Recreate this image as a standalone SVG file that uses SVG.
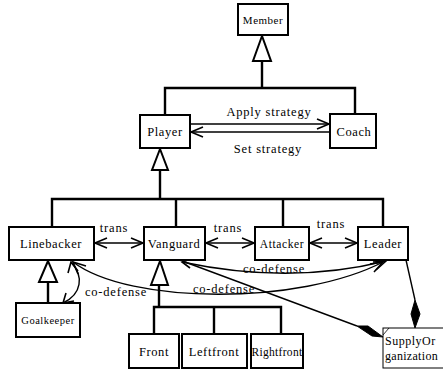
<svg xmlns="http://www.w3.org/2000/svg" width="443" height="372" viewBox="0 0 443 372">
  <style>
    .box { fill: #ffffff; stroke: #000; stroke-width: 2; }
    .tree { fill: none; stroke: #000; stroke-width: 2.4; }
    .tri { fill: #ffffff; stroke: #000; stroke-width: 2; }
    .assoc { fill: none; stroke: #000; stroke-width: 1.4; }
    .head { fill: none; stroke: #000; stroke-width: 1.6; }
    .dia { fill: #000; stroke: #000; stroke-width: 1; }
    .lbl { font-size: 12.5px; text-anchor: middle; letter-spacing: 0.6px; }
    .sm { font-size: 11px; text-anchor: middle; letter-spacing: 0.5px; }
    .edge { font-size: 12.5px; text-anchor: middle; letter-spacing: 0.8px; }
  </style>

  <g font-family="'Liberation Serif', 'DejaVu Serif', 'Times New Roman', serif" fill="#000">

  <!-- generalisation trees and association lines -->
  <g id="connectors">
    <!-- Member <- Player, Coach -->
    <polygon class="tri" points="262,36 253,61 271,61"/>
    <polyline class="tree" points="262,61 262,88"/>
    <polyline class="tree" points="165,115 165,88 355,88 355,114"/>

    <!-- Player <- Linebacker, Vanguard, Attacker, Leader -->
    <polygon class="tri" points="160,149 152,170 168,170"/>
    <polyline class="tree" points="160,170 160,199"/>
    <polyline class="tree" points="52,227 52,199 383,199 383,227"/>
    <line class="tree" x1="176" y1="199" x2="176" y2="227"/>
    <line class="tree" x1="283" y1="199" x2="283" y2="227"/>

    <!-- Linebacker <- Goalkeeper -->
    <polygon class="tri" points="48,261 39,282 57,282"/>
    <line class="tree" x1="48" y1="282" x2="48" y2="303"/>

    <!-- Vanguard <- Front, Leftfront, Rightfront -->
    <polygon class="tri" points="160,261 151,285 168,285"/>
    <line class="tree" x1="159" y1="285" x2="159" y2="307"/>
    <polyline class="tree" points="154,334 154,307 281,307 281,334"/>
    <line class="tree" x1="214" y1="307" x2="214" y2="334"/>

    <!-- Apply strategy / Set strategy -->
    <line class="assoc" x1="190" y1="124" x2="329" y2="124"/>
    <polyline class="head" points="317,119 329,124 317,129"/>
    <line class="assoc" x1="191" y1="132" x2="330" y2="132"/>
    <polyline class="head" points="203,127 191,132 203,137"/>

    <!-- trans arrows -->
    <line class="assoc" x1="95" y1="243" x2="143" y2="243"/>
    <polyline class="head" points="107,238 95,243 107,248"/>
    <polyline class="head" points="131,238 143,243 131,248"/>
    <line class="assoc" x1="206" y1="243" x2="254" y2="243"/>
    <polyline class="head" points="218,238 206,243 218,248"/>
    <polyline class="head" points="242,238 254,243 242,248"/>
    <line class="assoc" x1="310" y1="243" x2="357" y2="243"/>
    <polyline class="head" points="322,238 310,243 322,248"/>
    <polyline class="head" points="345,238 357,243 345,248"/>

    <!-- co-defense: Linebacker <-> Goalkeeper -->
    <path class="assoc" d="M71,262 C84,276 82,294 63,303"/>
    <polyline class="head" points="68,273 71,262 78,271"/>
    <polyline class="head" points="66,293 63,303 74,301"/>

    <!-- co-defense: Linebacker <-> Leader -->
    <path class="assoc" d="M73,262 C130,305 300,305 383,262"/>
    <polyline class="head" points="78,274 73,262 86,266"/>
    <polyline class="head" points="370,264 383,262 374,272"/>

    <!-- co-defense: Vanguard <-> Leader -->
    <path class="assoc" d="M182,262 Q290,285 386,261"/>
    <polyline class="head" points="191,259 182,262 190,268"/>
    <polyline class="head" points="373,262 386,261 376,270"/>

    <!-- aggregation into SupplyOrganization -->
    <line class="assoc" x1="185" y1="262" x2="357" y2="326"/>
    <polygon class="dia" points="383,337 372,336 357,326 368,326"/>
    <line class="assoc" x1="406" y1="260" x2="415" y2="300"/>
    <polygon class="dia" points="415,300 420,314 415,328 411,314"/>
  </g>

  <g id="member">
    <rect class="box" x="238" y="4" width="50" height="31"/>
    <text class="sm" x="263" y="24">Member</text>
  </g>
  <g id="player">
    <rect class="box" x="140" y="115" width="50" height="33"/>
    <text class="lbl" x="165" y="136">Player</text>
  </g>
  <g id="coach">
    <rect class="box" x="330" y="114" width="46" height="34"/>
    <text class="lbl" x="354" y="136">Coach</text>
  </g>
  <g id="linebacker">
    <rect class="box" x="9" y="227" width="85" height="33"/>
    <text class="lbl" x="51" y="248">Linebacker</text>
  </g>
  <g id="vanguard">
    <rect class="box" x="144" y="227" width="61" height="33"/>
    <text class="lbl" x="174" y="248">Vanguard</text>
  </g>
  <g id="attacker">
    <rect class="box" x="255" y="227" width="54" height="33"/>
    <text class="lbl" x="282" y="248" style="font-size:11.5px">Attacker</text>
  </g>
  <g id="leader">
    <rect class="box" x="358" y="227" width="50" height="33"/>
    <text class="lbl" x="383" y="248">Leader</text>
  </g>
  <g id="goalkeeper">
    <rect class="box" x="16" y="303" width="64" height="34"/>
    <text class="sm" x="48" y="324" style="font-size:10.5px">Goalkeeper</text>
  </g>
  <g id="front">
    <rect class="box" x="129" y="334" width="50" height="34"/>
    <text class="lbl" x="154" y="356">Front</text>
  </g>
  <g id="leftfront">
    <rect class="box" x="182" y="334" width="65" height="34"/>
    <text class="lbl" x="214" y="356">Leftfront</text>
  </g>
  <g id="rightfront">
    <rect class="box" x="251" y="334" width="52" height="34"/>
    <text class="lbl" x="277" y="356" style="font-size:11.5px;letter-spacing:0.3px">Rightfront</text>
  </g>
  <g id="supplyorganization">
    <rect x="383" y="328" width="70" height="40" fill="#fff" stroke="#000" stroke-width="1"/>
    <line x1="383" y1="335" x2="389" y2="328" stroke="#000" stroke-width="0.8"/>
    <text x="385" y="345" font-size="12" letter-spacing="0.5">SupplyOr</text>
    <text x="385" y="360" font-size="12" letter-spacing="0.3">ganization</text>
  </g>

  <g id="labels">
    <text class="edge" x="269" y="116">Apply strategy</text>
    <text class="edge" x="268" y="153">Set strategy</text>
    <text class="edge" x="114" y="232">trans</text>
    <text class="edge" x="228" y="232">trans</text>
    <text class="edge" x="331" y="228">trans</text>
    <text class="edge" x="116" y="296">co-defense</text>
    <text class="edge" x="224" y="293">co-defense</text>
    <text class="edge" x="274" y="273">co-defense</text>
  </g>

  </g>
</svg>
